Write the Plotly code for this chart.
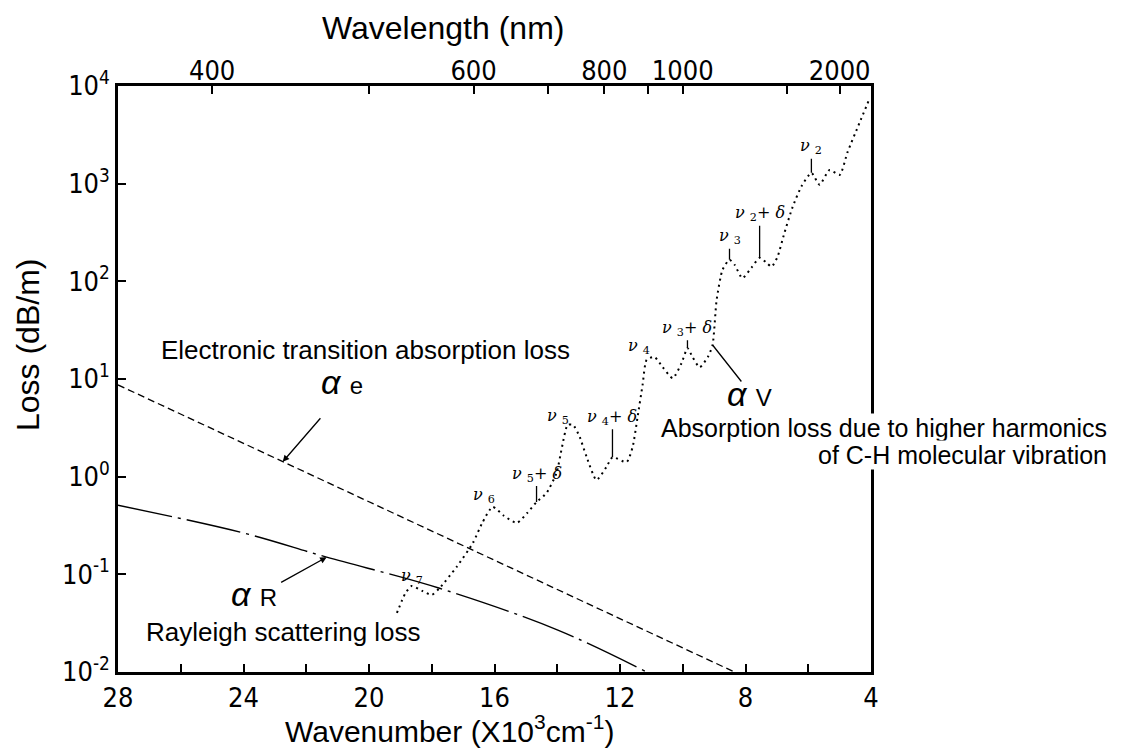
import math
import plotly.graph_objects as go

# ---------------- data ----------------
# Electronic transition absorption loss (alpha_e)
e_wn = [28, 24, 20, 16, 12, 8.35]
e_loss = [8.7, 2.19, 0.55, 0.139, 0.035, 0.01]

# Rayleigh scattering loss (alpha_R)
r_wn = [28, 24, 21.35, 17.75, 14, 11.15]
r_loss = [0.51, 0.265, 0.15, 0.072, 0.027, 0.01]

# Absorption loss from C-H vibration harmonics (alpha_v)
v_wn = [19.11, 18.85, 18.64, 18.3, 18.0, 17.75, 17.2, 16.69, 16.4, 16.06,
        15.7, 15.29, 14.95, 14.66, 14.34, 14.02, 13.85, 13.67, 13.5, 13.3,
        13.06, 12.75, 12.43, 12.24, 11.79, 11.6, 11.44, 11.28, 11.15, 10.9,
        10.64, 10.32, 10.04, 9.85, 9.69, 9.46, 9.2, 9.05, 8.92, 8.73,
        8.51, 8.35, 8.1, 7.81, 7.55, 7.33, 7.17, 6.98, 6.76, 6.5,
        6.22, 5.9, 5.64, 5.32, 5.0, 4.75, 4.37, 4.06]
v_loss = [0.0402, 0.0631, 0.076, 0.0676, 0.0617, 0.0724, 0.12, 0.209, 0.331, 0.49,
          0.398, 0.336, 0.427, 0.55, 0.681, 1.10, 2.0, 3.38, 3.39, 2.63,
          1.58, 0.925, 1.26, 1.58, 1.41, 2.0, 4.07, 8.71, 15.7, 16.8,
          13.2, 10.2, 14.5, 20.7, 16.8, 13.2, 16.8, 22.3, 64.6, 132,
          166, 148, 108, 138, 174, 155, 141, 178, 313, 575,
          933, 1290, 977, 1380, 1230, 2090, 4170, 7240]

# Peak labels of the vibration harmonics
nu_text = ["ν <sub>2</sub>", "ν <sub>2</sub>+ δ", "ν <sub>3</sub>", "ν <sub>3</sub>+ δ",
           "ν <sub>4</sub>", "ν <sub>4</sub>+ δ", "ν <sub>5</sub>", "ν <sub>5</sub>+ δ",
           "ν <sub>6</sub>", "ν <sub>7</sub>"]
nu_wn = [5.9, 7.55, 8.51, 9.85, 11.15, 12.24, 13.67, 14.66, 16.06, 18.64]
nu_loss = [1290, 174, 166, 20.7, 15.7, 1.58, 3.38, 0.55, 0.49, 0.076]

# Axis ticks
wn_ticks = [28, 26, 24, 22, 20, 18, 16, 14, 12, 10, 8, 6, 4]
wn_labels = ["28", "", "24", "", "20", "", "16", "", "12", "", "8", "", "4"]
wl_ticks_nm = [400, 500, 600, 700, 800, 900, 1000, 1500, 2000]
wl_labels = ["400", "", "600", "", "800", "", "1000", "", "2000"]
loss_ticks = [1e-2, 1e-1, 1e0, 1e1, 1e2, 1e3, 1e4]
loss_labels = ["10<sup>-2</sup>", "10<sup>-1</sup>", "10<sup>0</sup>", "10<sup>1</sup>",
               "10<sup>2</sup>", "10<sup>3</sup>", "10<sup>4</sup>"]

# ---------------- figure ----------------
SANS = "Liberation Sans, Arial, sans-serif"
NARROW = "Liberation Sans Narrow, DejaVu Sans Condensed, Liberation Sans"
SERIF = "DejaVu Serif, Liberation Serif, serif"

fig = go.Figure()
fig.add_trace(go.Scatter(x=e_wn, y=e_loss, mode="lines",
                         line=dict(color="black", width=1.3, dash="7px,4px"),
                         showlegend=False, hoverinfo="skip"))
fig.add_trace(go.Scatter(x=r_wn, y=r_loss, mode="lines",
                         line=dict(color="black", width=1.4, dash="55px,6px,3px,6px", shape="spline"),
                         showlegend=False, hoverinfo="skip"))
fig.add_trace(go.Scatter(x=v_wn, y=v_loss, mode="lines",
                         line=dict(color="black", width=2, dash="2px,4px", shape="spline", smoothing=0.6),
                         showlegend=False, hoverinfo="skip"))
# invisible trace so the top (wavelength) axis is drawn
fig.add_trace(go.Scatter(x=[28, 4], y=[1, 1], xaxis="x2", mode="lines",
                         line=dict(width=0), opacity=0, showlegend=False, hoverinfo="skip"))

wl_pos = [1e4 / w for w in wl_ticks_nm]
tickfont = dict(family=NARROW, size=27, color="black")

fig.update_layout(
    width=1127, height=749,
    margin=dict(l=118, r=256, t=86, b=77),
    paper_bgcolor="white", plot_bgcolor="white",
    xaxis=dict(range=[28, 4], tickmode="array", tickvals=wn_ticks, ticktext=wn_labels,
               ticks="inside", ticklen=8, tickwidth=1.5, tickcolor="black",
               showline=True, linewidth=2.5, linecolor="black", mirror=True,
               showgrid=False, zeroline=False, tickfont=tickfont),
    xaxis2=dict(range=[28, 4], overlaying="x", side="top", anchor="y",
                tickmode="array", tickvals=wl_pos, ticktext=wl_labels,
                ticks="inside", ticklen=8, tickwidth=1.5, tickcolor="black",
                showline=False, showgrid=False, zeroline=False, tickfont=tickfont),
    yaxis=dict(type="log", range=[-2, 4], tickmode="array", tickvals=loss_ticks,
               ticktext=loss_labels, ticks="inside", ticklen=8, tickwidth=1.5,
               tickcolor="black", showline=True, linewidth=2.5, linecolor="black",
               mirror=True, showgrid=False, zeroline=False, tickfont=tickfont),
)

ann = []
title_font = dict(family=SANS, size=32, color="black")
text_font = dict(family=SANS, size=26, color="black")
# axis titles
ann.append(dict(text="Wavelength (nm)", x=0.4316, y=1.099, xref="paper", yref="paper",
                showarrow=False, font=title_font, xanchor="center", yanchor="middle"))
ann.append(dict(text="Wavenumber (X10<sup>3</sup>cm<sup>-1</sup>)", x=0.4396, y=-0.097,
                xref="paper", yref="paper", showarrow=False,
                font=dict(family=SANS, size=30, color="black"),
                xanchor="center", yanchor="middle"))
ann.append(dict(text="Loss (dB/m)", x=-0.1195, y=0.558, xref="paper", yref="paper",
                showarrow=False, textangle=-90, font=title_font,
                xanchor="center", yanchor="middle"))

# descriptive texts
ann.append(dict(text="Electronic transition absorption loss", x=0.0545, y=0.549,
                xref="paper", yref="paper", showarrow=False, xanchor="left", yanchor="middle",
                font=text_font))
ann.append(dict(text="Rayleigh scattering loss", x=0.034, y=0.0683,
                xref="paper", yref="paper", showarrow=False, xanchor="left", yanchor="middle",
                font=text_font))
ann.append(dict(text="Absorption loss due to higher harmonics",
                x=1.315, y=(672 - 428) / 586, xref="paper", yref="paper", showarrow=False,
                xanchor="right", yanchor="middle", bgcolor="white", borderpad=0,
                font=dict(family=SANS, size=25, color="black")))
ann.append(dict(text="of C-H molecular vibration",
                x=1.315, y=(672 - 455) / 586, xref="paper", yref="paper", showarrow=False,
                xanchor="right", yanchor="middle", bgcolor="white", borderpad=0,
                font=dict(family=SANS, size=25, color="black")))

# alpha labels
alpha_font = dict(family=SANS, size=34, color="black")
ann.append(dict(text="<i>α</i> <span style='font-size:24px'>e</span>", x=0.297, y=0.495,
                xref="paper", yref="paper", showarrow=False, font=alpha_font,
                xanchor="center", yanchor="middle"))
ann.append(dict(text="<i>α</i> <span style='font-size:24px'>R</span>", x=0.181, y=0.133,
                xref="paper", yref="paper", showarrow=False, font=alpha_font,
                xanchor="center", yanchor="middle"))
ann.append(dict(text="<i>α</i> <span style='font-size:24px'>V</span>", x=0.838, y=0.474,
                xref="paper", yref="paper", showarrow=False, font=alpha_font,
                xanchor="center", yanchor="middle"))

# arrows to the curves
ann.append(dict(text="", x=22.75, y=math.log10(1.42), xref="x", yref="y",
                showarrow=True, ax=39, ay=-45, arrowhead=2, arrowsize=1, arrowwidth=1.3,
                arrowcolor="black", standoff=0))
ann.append(dict(text="", x=21.35, y=math.log10(0.15), xref="x", yref="y",
                showarrow=True, ax=-47, ay=26, arrowhead=2, arrowsize=1, arrowwidth=1.3,
                arrowcolor="black", standoff=0))
ann.append(dict(text="", x=9.05, y=math.log10(22.3), xref="x", yref="y",
                showarrow=True, ax=30, ay=38, arrowhead=0, arrowwidth=1.3,
                arrowcolor="black", standoff=0))

# peak labels
bar_ay = [-26, -44, -23, -20, None, -40, None, -28, None, None]
shift = [(0, 0), (0, 0), (0, 0), (0, 0), (-8, 13), (0, 0), (-10, 9), (0, 0), (-9, 11), (0, 9)]
nu_font = dict(family=SERIF, size=16, color="black")
for t, w, l, ay, sh in zip(nu_text, nu_wn, nu_loss, bar_ay, shift):
    t = t.replace("ν", "<i>ν</i>").replace("δ", "<i>δ</i>")
    if ay is not None:
        ann.append(dict(text=t, x=w, y=math.log10(l), xref="x", yref="y", showarrow=True,
                        ax=0, ay=ay, arrowhead=0, arrowwidth=1.3, arrowcolor="black",
                        standoff=0, font=nu_font))
    else:
        ann.append(dict(text=t, x=w, y=math.log10(l), xref="x", yref="y", showarrow=False,
                        xshift=sh[0], yshift=sh[1], font=nu_font))

fig.update_layout(annotations=ann)
fig.write_html("out.html")
